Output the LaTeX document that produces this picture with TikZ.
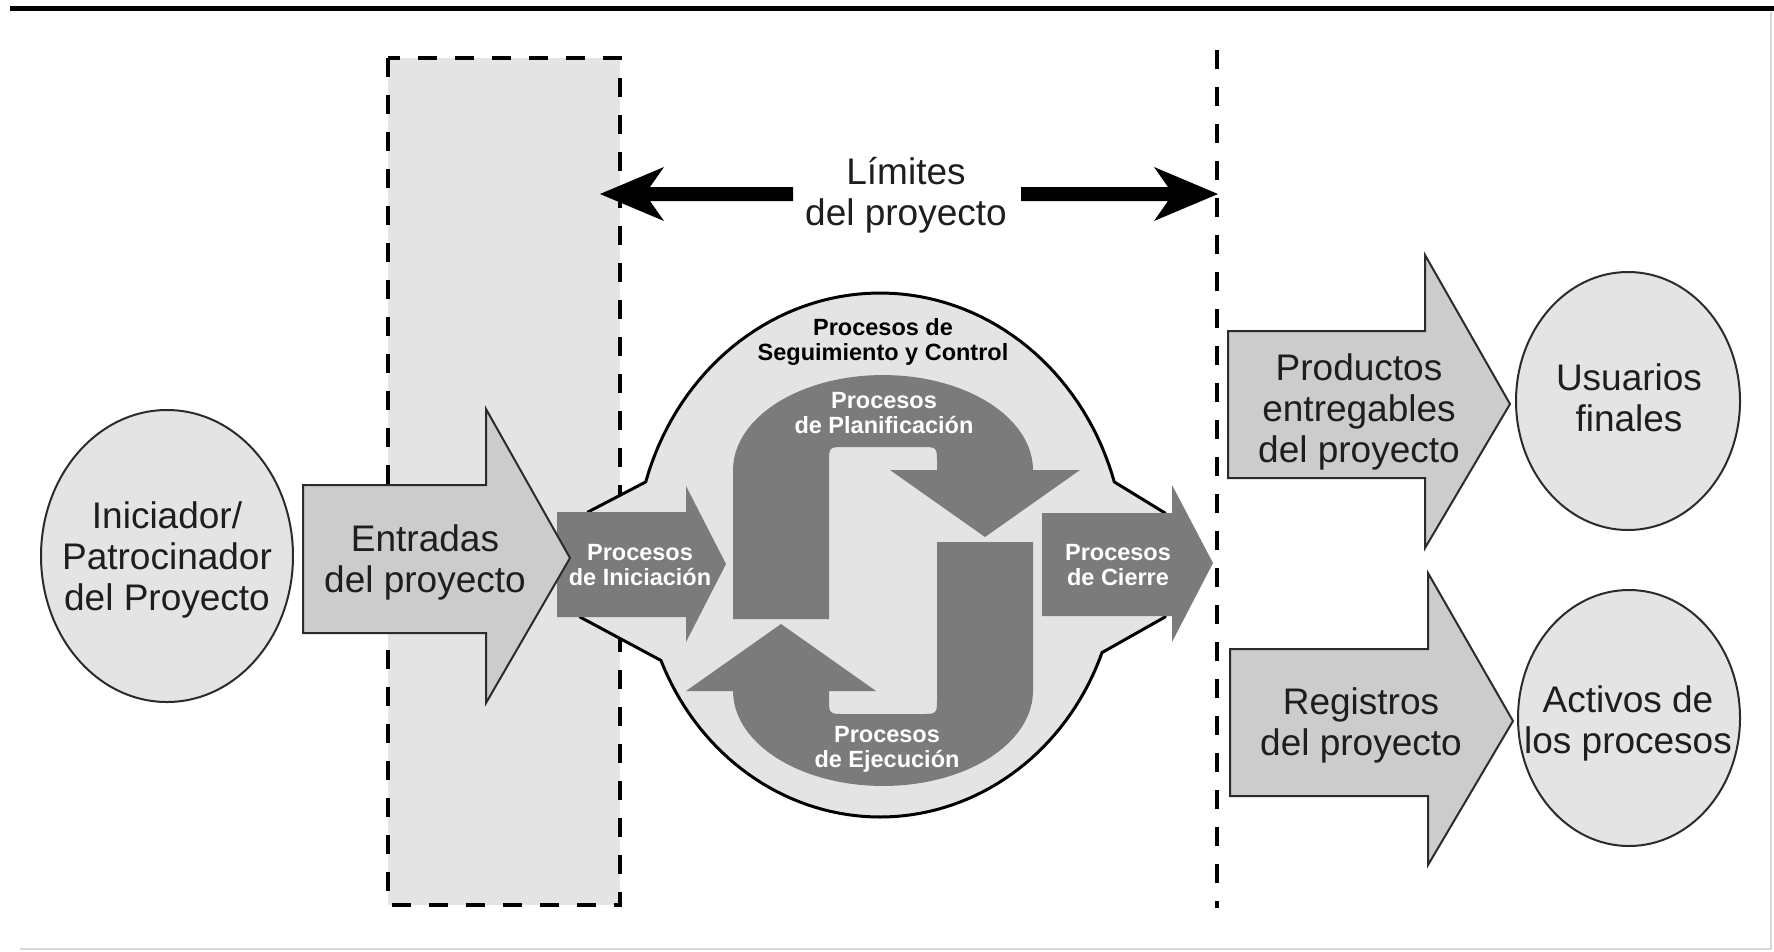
\documentclass[tikz,border=0pt]{standalone}
\usepackage{fontspec}
\setmainfont{Liberation Sans}
\definecolor{lightg}{HTML}{E4E4E4}
\definecolor{midg}{HTML}{CCCCCC}
\definecolor{darkg}{HTML}{7B7B7B}
\definecolor{outl}{HTML}{2B2B2B}
\definecolor{txt}{HTML}{1E1E1E}
\definecolor{edge}{HTML}{D8D8D8}
\begin{document}
\begin{tikzpicture}[x=1pt,y=-1pt,
  blockarrow/.style={fill=midg, draw=outl, line width=2pt, line join=miter},
  roundbox/.style={fill=lightg, draw=outl, line width=2pt},
  procshape/.style={fill=darkg},
  dashedline/.style={draw=black, line width=3.5pt, dash pattern=on 19pt off 18pt},
  bigtxt/.style={font=\fontsize{37}{41}\selectfont, align=center, text=txt, inner sep=0pt},
  proctxt/.style={font=\bfseries\fontsize{23.5}{25}\selectfont, align=center, text=white, inner sep=0pt},
  planpath/.style={insert path={(733,619) -- (733,470) -- plot[domain=180:0,samples=50] ({883+150*cos(\x)},{470-95*sin(\x)}) -- (1080,470) -- (985,537) -- (890,470) -- (937,470) -- (937,463) .. controls (937,447) .. (921,447) -- (845,447) .. controls (829,447) .. (829,463) -- (829,619) -- cycle}}
]
\useasboundingbox (0,0) rectangle (1774,951);
\fill[white] (0,0) rectangle (1774,951);

% frame lines
\draw[line width=5pt] (10,8) -- (1774,8);
\draw[edge, line width=1.5pt] (1771,12) -- (1771,949) -- (20,949);

% inputs zone and boundary
\fill[lightg] (388,58) rectangle (620,905);
\draw[dashedline] (388,58) rectangle (620,905);
\draw[dashedline] (1217,50) -- (1217,908);

% initiator
\draw[roundbox] (167,556) ellipse [x radius=126pt, y radius=146pt];

% process group blob
\filldraw[fill=lightg, draw=black, line width=3pt, line join=round]
  (588,512) -- plot[domain=163:17, samples=70] ({880+245*cos(\x)},{560-267*sin(\x)})
  -- (1165,513) -- (1165,617) -- (1103,652)
  -- plot[domain=339:203, samples=70] ({880+238*cos(\x)},{560-257*sin(\x)})
  -- (580,617) -- cycle;

% planning and execution loops
\fill[procshape, planpath];
\begin{scope}[rotate around={180:(883,580.5)}]
  \fill[procshape, planpath];
\end{scope}

% initiating and closing arrows
\fill[procshape] (557,512) -- (686,512) -- (686,486) -- (726,564) -- (686,642) -- (686,617) -- (557,617) -- cycle;
\fill[procshape] (1042,513) -- (1172,513) -- (1172,485) -- (1213,563) -- (1172,642) -- (1172,616) -- (1042,616) -- cycle;

% inputs arrow
\draw[blockarrow] (303,485) -- (486,485) -- (486,409) -- (570,558) -- (486,703) -- (486,633) -- (303,633) -- cycle;

% outputs
\draw[blockarrow] (1228,331) -- (1425,331) -- (1425,255) -- (1510,404) -- (1425,548) -- (1425,478) -- (1228,478) -- cycle;
\draw[blockarrow] (1230,649) -- (1428,649) -- (1428,573) -- (1513,721) -- (1428,865) -- (1428,796) -- (1230,796) -- cycle;
\draw[roundbox] (1628,401) ellipse [x radius=112pt, y radius=129pt];
\draw[roundbox] (1629,718) ellipse [x radius=111pt, y radius=128pt];

% project boundary arrows
\fill[black] (600,194) -- (664,167) -- (650,187) -- (793,187) -- (793,201) -- (650,201) -- (664,221) -- cycle;
\fill[black] (1218,194) -- (1154,167) -- (1168,187) -- (1021,187) -- (1021,201) -- (1168,201) -- (1154,221) -- cycle;

% texts
\node[bigtxt] (iniciador) at (167,560) {Iniciador/\\Patrocinador\\del Proyecto};
\node[bigtxt] (entradas) at (425,562) {Entradas\\del proyecto};
\node[bigtxt] (limites) at (906,195) {Límites\\del proyecto};
\node[bigtxt] (productos) at (1359,412) {Productos\\entregables\\del proyecto};
\node[bigtxt] (usuarios) at (1629,398) {Usuarios\\finales};
\node[bigtxt] (registros) at (1361,725) {Registros\\del proyecto};
\node[bigtxt] (activos) at (1628,723) {Activos de\\los procesos};
\node[proctxt, text=black] (seguimiento) at (883,342) {Procesos de\\Seguimiento y Control};
\node[proctxt] (planif) at (884,413) {Procesos\\de Planificación};
\node[proctxt] (ejec) at (887,749) {Procesos\\de Ejecución};
\node[proctxt] (inic) at (640,565) {Procesos\\de Iniciación};
\node[proctxt] (cierre) at (1118,565) {Procesos\\de Cierre};
\end{tikzpicture}
\end{document}
